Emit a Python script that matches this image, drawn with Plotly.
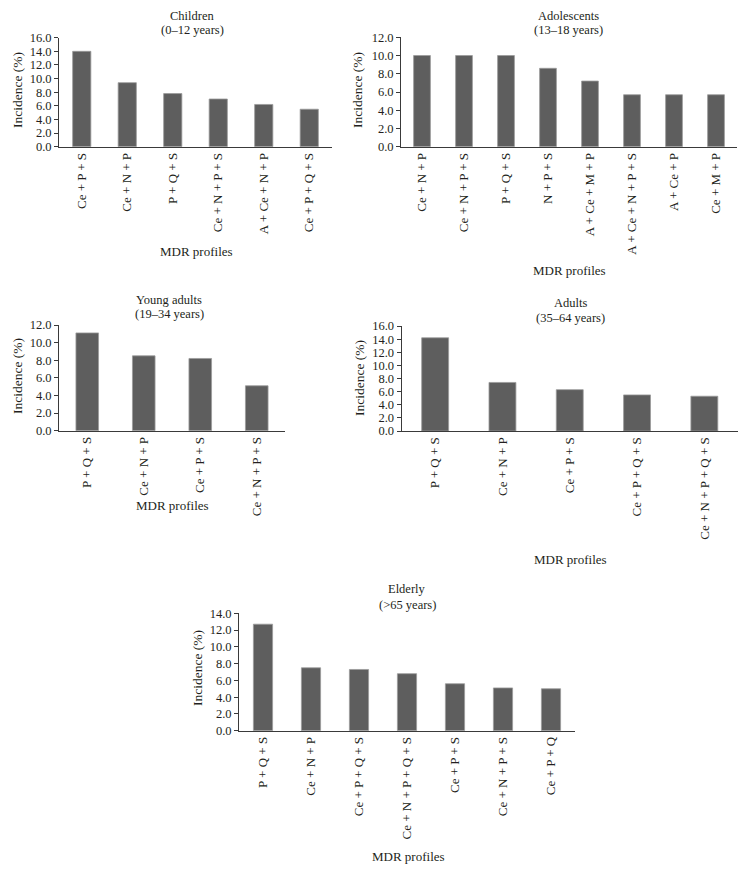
import plotly.graph_objects as go

# page offset caused by the default 8px body margin of the html page
OFF = 8
W, H = 730, 856

children_labels = ["Ce + P + S", "Ce + N + P", "P + Q + S", "Ce + N + P + S", "A + Ce + N + P", "Ce + P + Q + S"]
children_values = [14.0, 9.4, 7.8, 7.0, 6.2, 5.5]

adolescents_labels = ["Ce + N + P", "Ce + N + P + S", "P + Q + S", "N + P + S", "A + Ce + M + P",
                      "A + Ce + N + P + S", "A + Ce + P", "Ce + M + P"]
adolescents_values = [10.0, 10.0, 10.0, 8.6, 7.2, 5.7, 5.7, 5.7]

young_labels = ["P + Q + S", "Ce + N + P", "Ce + P + S", "Ce + N + P + S"]
young_values = [11.1, 8.5, 8.2, 5.1]

adults_labels = ["P + Q + S", "Ce + N + P", "Ce + P + S", "Ce + P + Q + S", "Ce + N + P + Q + S"]
adults_values = [14.2, 7.4, 6.3, 5.5, 5.3]

elderly_labels = ["P + Q + S", "Ce + N + P", "Ce + P + Q + S", "Ce + N + P + Q + S", "Ce + P + S",
                  "Ce + N + P + S", "Ce + P + Q"]
elderly_values = [12.7, 7.5, 7.3, 6.8, 5.6, 5.1, 5.0]

title_line1 = ["Children", "Adolescents", "Young adults", "Adults", "Elderly"]
title_line2 = ["(0\u201312 years)", "(13\u201318 years)", "(19\u201334 years)", "(35\u201364 years)", "(>65 years)"]
y_max = [16, 12, 12, 16, 14]

# panel pixel boxes in page coordinates: x0, x1, ytop, ybottom
boxes = [(59, 332, 37.7, 146.7), (401, 737, 37.3, 146.7), (59, 285, 325, 430.7),
         (401.5, 738, 326, 431), (239, 575, 613.3, 730.7)]
# title centre x, line1 y, line2 y
title_pos = [(192, 16, 30.5), (568, 16, 30.5), (169, 299.5, 314), (570, 303, 317.5),
             (407, 589, 604.5)]
xtitle_pos = [(196, 251.7), (569, 270.7), (172, 505), (570, 559), (408, 856.7)]
ytitle_pos = [(17, 90), (357, 90), (17, 376), (360, 378), (197, 668)]


def px(x):
    return (x - OFF) / W


def py(y):
    return 1 - (y - OFF) / H


FONT = "Liberation Serif, Times New Roman, serif"
TXT = "#231f20"
BAR = "#5e5e5e"

data = [(children_labels, children_values), (adolescents_labels, adolescents_values),
        (young_labels, young_values), (adults_labels, adults_values),
        (elderly_labels, elderly_values)]

fig = go.Figure()
layout = dict(width=W, height=H, margin=dict(l=0, r=0, t=0, b=0),
              paper_bgcolor="white", plot_bgcolor="white", showlegend=False,
              bargap=0.6, font=dict(family=FONT, color=TXT, size=13))
annotations = []


def note(text, x, y, size=13, angle=0):
    annotations.append(dict(text=text, x=px(x), y=py(y), xref="paper", yref="paper",
                            showarrow=False, xanchor="center", yanchor="middle", textangle=angle,
                            font=dict(size=size, family=FONT, color=TXT)))


for i, ((labels, vals), (x0, x1, yt, yb)) in enumerate(zip(data, boxes)):
    n = "" if i == 0 else str(i + 1)
    fig.add_trace(go.Bar(x=labels, y=vals, xaxis="x" + n, yaxis="y" + n,
                         marker=dict(color=BAR, line=dict(color="#9a9a9a", width=0.8)),
                         hoverinfo="x+y"))
    layout["xaxis" + n] = dict(domain=[px(x0), px(x1)], anchor="y" + n, tickangle=-90,
                               showline=True, linecolor="#3a3a3a", linewidth=1,
                               ticks="", showgrid=False, zeroline=False,
                               tickfont=dict(size=13, family=FONT, color=TXT), automargin=False)
    layout["yaxis" + n] = dict(domain=[py(yb), py(yt)], anchor="x" + n,
                               range=[0, y_max[i]], dtick=2, tickformat=".1f",
                               showline=True, linecolor="#3a3a3a", linewidth=1,
                               ticks="outside", ticklen=4, tickcolor="#3a3a3a",
                               showgrid=False, zeroline=False,
                               tickfont=dict(size=12.5, family=FONT, color=TXT), automargin=False)
    tx, ty1, ty2 = title_pos[i]
    note(title_line1[i], tx, ty1, size=12.5)
    note(title_line2[i], tx, ty2, size=12.5)
    mx, my = xtitle_pos[i]
    note("MDR profiles", mx, my)
    ix, iy = ytitle_pos[i]
    note("Incidence (%)", ix, iy, size=13.5, angle=-90)

layout["annotations"] = annotations
fig.update_layout(**layout)
fig.write_html("out.html")
